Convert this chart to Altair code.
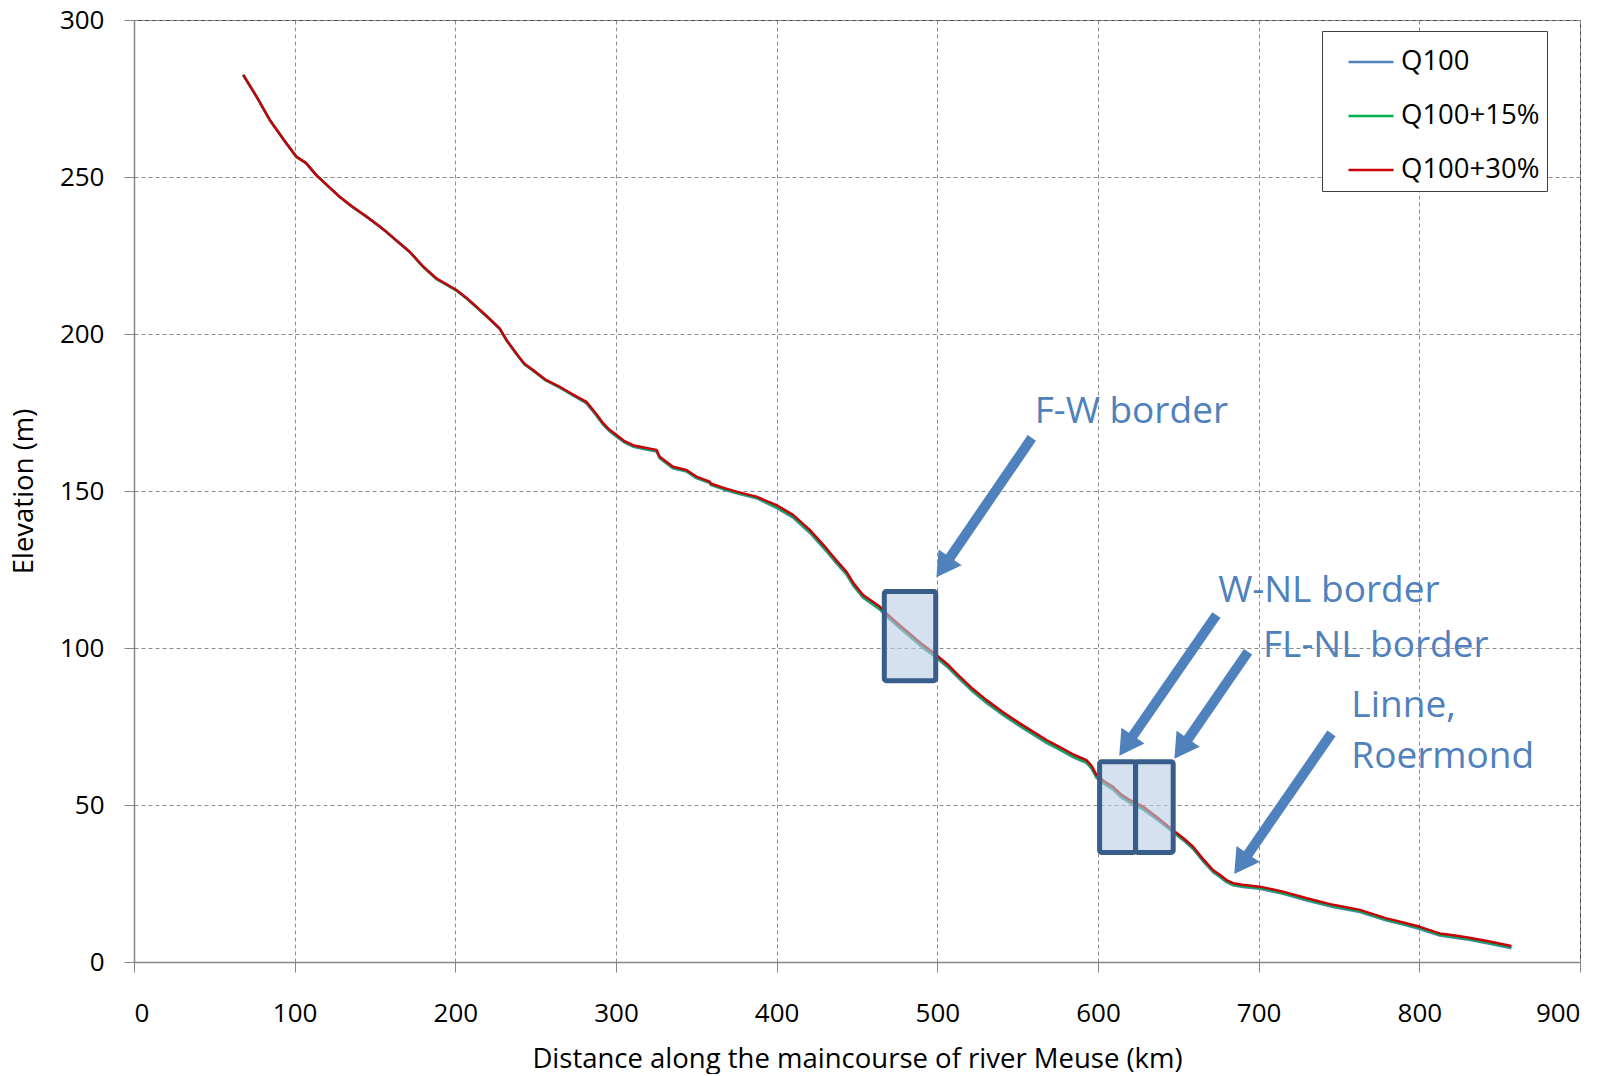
import altair as alt
import pandas as pd

# ---------------- data ----------------
distance_km = [68, 77, 84.5, 93, 101, 107, 113.5, 120, 128, 136, 144.7, 151, 157, 164, 171.6, 180,
               188.2, 194, 200.7, 207, 213.1, 220, 227.6, 232, 238, 243, 248.4, 256, 265, 273,
               281.6, 287, 292, 296, 300.3, 305, 310.6, 318, 325.2, 327.2, 335.5, 343.8, 350, 358.3,
               359, 367, 375, 387.4, 399.9, 410.2, 420.6, 431, 437, 443.4, 448, 453.8, 464.1, 468.3,
               476, 483, 491, 499.4, 507, 514, 522, 530.6, 541, 551.3, 560, 567.9, 576, 585, 592.8,
               596, 599, 604, 609.4, 614, 619.7, 624, 628, 637, 646.7, 653, 659.2, 665, 671.6, 676,
               680, 684.1, 690, 700.7, 715.2, 730, 746.3, 763, 779.6, 790, 800.3, 812.7, 820, 829.3,
               843, 857.3]

elev_q100_30 = [282.5, 275, 268.2, 262, 256.5, 254.5, 250.6, 247.5, 243.7, 240.5, 237.4, 235, 232.6,
                229.5, 226.2, 221.5, 217.7, 216, 214, 211.5, 208.7, 205.5, 201.8, 198, 193.8, 190.5,
                188.5, 185.5, 183.2, 180.8, 178.4, 175, 171.6, 169.5, 167.8, 166, 164.6, 163.8, 163.1,
                160.9, 157.7, 156.7, 154.6, 153, 152.4, 151, 149.8, 148.2, 145.5, 142.4, 137.6, 131.7,
                128, 124.3, 120.5, 116.9, 113.2, 111, 107.5, 104.5, 101, 97.8, 94.5, 90.9, 87, 83.4,
                79.5, 76, 73.2, 70.7, 68.5, 66, 64.3, 62.5, 59.6, 57.5, 55.8, 53.5, 51.6, 50.5, 49.5,
                46, 42, 39.5, 36.7, 33, 29.3, 27.7, 26.1, 25.1, 24.6, 24, 22.4, 20.3, 18.2, 16.6, 13.9,
                12.6, 11.2, 9.1, 8.6, 7.9, 6.6, 5.1]

elev_q100_15 = [282.5, 275, 268.2, 262, 256.5, 254.5, 250.6, 247.5, 243.7, 240.5, 237.4, 235, 232.6,
                229.5, 226.2, 221.4, 217.6, 215.9, 213.9, 211.4, 208.6, 205.4, 201.7, 197.9, 193.7,
                190.4, 188.4, 185.4, 183.0, 180.6, 178.1, 174.7, 171.3, 169.2, 167.5, 165.7, 164.3,
                163.5, 162.8, 160.6, 157.4, 156.4, 154.3, 152.7, 152.1, 150.7, 149.5, 147.9, 144.9,
                141.8, 137.0, 131.1, 127.4, 123.7, 119.9, 116.3, 112.6, 110.4, 106.9, 103.9, 100.4,
                97.2, 93.9, 90.3, 86.4, 82.8, 78.9, 75.4, 72.6, 70.1, 67.9, 65.4, 63.7, 61.9, 59.0,
                56.9, 55.2, 52.9, 51.0, 49.9, 48.9, 45.6, 41.6, 39.1, 36.3, 32.6, 28.9, 27.3, 25.7,
                24.7, 24.2, 23.6, 22.0, 19.9, 17.8, 16.2, 13.5, 12.2, 10.8, 8.7, 8.2, 7.5, 6.2, 4.7]

elev_q100 = [282.4, 274.9, 268.1, 261.9, 256.4, 254.4, 250.5, 247.4, 243.6, 240.4, 237.3, 234.9, 232.5,
             229.4, 226.1, 221.3, 217.5, 215.8, 213.8, 211.3, 208.5, 205.3, 201.6, 197.8, 193.6, 190.3,
             188.3, 185.3, 182.9, 180.5, 177.9, 174.5, 171.1, 169.0, 167.3, 165.5, 164.1, 163.3, 162.6,
             160.4, 157.2, 156.2, 154.1, 152.5, 151.9, 150.5, 149.3, 147.7, 144.6, 141.5, 136.7, 130.8,
             127.1, 123.4, 119.6, 116.0, 112.3, 110.1, 106.6, 103.6, 100.1, 96.9, 93.6, 90.0, 86.1,
             82.5, 78.6, 75.1, 72.3, 69.8, 67.6, 65.1, 63.4, 61.6, 58.7, 56.6, 54.9, 52.6, 50.7, 49.6,
             48.6, 45.3, 41.3, 38.8, 36.0, 32.3, 28.6, 27.0, 25.4, 24.4, 23.9, 23.3, 21.7, 19.6, 17.5,
             15.9, 13.2, 11.9, 10.5, 8.4, 7.9, 7.2, 5.9, 4.4]

series_names = ["Q100", "Q100+15%", "Q100+30%"]
series_colors = ["#4F81BD", "#00B050", "#C8000A"]

# highlighted border sections (km, m)
box_x1 = [467, 601, 623.4]
box_x2 = [499, 623.4, 646.8]
box_y1 = [89.6, 34.9, 34.9]
box_y2 = [118, 63.8, 63.8]

# annotation arrows: tail and head (km, m)
arrow_tail_x = [558.8, 673.7, 693.4, 745.3]
arrow_tail_y = [166.9, 110.5, 98.8, 72.8]
arrow_head_x = [503.7, 617.5, 651.8, 689.1]
arrow_head_y = [125.7, 68.9, 67.9, 31.2]

# annotation labels
label_text = ["F-W border", "W-NL border", "FL-NL border", "Linne,", "Roermond"]
label_x = [560.6, 674.8, 702.7, 757.7, 757.7]
label_y = [171.7, 114.7, 97.2, 78.1, 61.7]

x_ticks = [0, 100, 200, 300, 400, 500, 600, 700, 800, 900]
y_ticks = [0, 50, 100, 150, 200, 250, 300]

x_title = "Distance along the maincourse of river Meuse (km)"
y_title = "Elevation (m)"

# ---------------- build tables ----------------
rows = []
for name, vals in zip(series_names, [elev_q100, elev_q100_15, elev_q100_30]):
    for d, v in zip(distance_km, vals):
        rows.append({"dist": d, "elev": v, "series": name})
df = pd.DataFrame(rows)

box_df = pd.DataFrame({"x1": box_x1, "x2": box_x2, "y1": box_y1, "y2": box_y2})
arrow_df = pd.DataFrame({"tx": arrow_tail_x, "ty": arrow_tail_y, "hx": arrow_head_x, "hy": arrow_head_y})
label_df = pd.DataFrame({"lx": label_x, "ly": label_y, "txt": label_text})

FONT = "Open Sans"
xscale = alt.Scale(domain=[0, 900], nice=False, zero=False)
yscale = alt.Scale(domain=[0, 300], nice=False, zero=False)

lines = alt.Chart(df).mark_line(strokeWidth=2.5, strokeJoin="round").encode(
    x=alt.X("dist:Q", scale=xscale, title=x_title,
            axis=alt.Axis(values=x_ticks, labelPadding=28, titlePadding=19)),
    y=alt.Y("elev:Q", scale=yscale, title=y_title,
            axis=alt.Axis(values=y_ticks, labelPadding=20, titlePadding=21)),
    color=alt.Color("series:N",
                    scale=alt.Scale(domain=series_names, range=series_colors),
                    legend=alt.Legend(title=None, orient="none", legendX=1188, legendY=11,
                                      symbolType="stroke", symbolSize=2025, symbolStrokeWidth=2.5,
                                      symbolOffset=18, labelOffset=6, rowPadding=16, padding=7,
                                      labelFont=FONT, labelFontSize=27.5, labelColor="#000000",
                                      strokeColor="#404040", fillColor="#FFFFFF")),
)

boxes = alt.Chart(box_df).mark_rect(fill="#B9CDE5", fillOpacity=0.6, stroke="#385D8A",
                                    strokeWidth=5, cornerRadius=2).encode(
    x=alt.X("x1:Q", scale=xscale), x2="x2:Q",
    y=alt.Y("y1:Q", scale=yscale), y2="y2:Q",
)

shafts = alt.Chart(arrow_df).mark_rule(color="#4F81BD", strokeWidth=10).encode(
    x=alt.X("tx:Q", scale=xscale), y=alt.Y("ty:Q", scale=yscale), x2="hx:Q", y2="hy:Q",
)

heads = alt.Chart(arrow_df).mark_point(shape="triangle-up", filled=True, size=784, angle=214.5,
                                       color="#4F81BD", opacity=1).encode(
    x=alt.X("hx:Q", scale=xscale), y=alt.Y("hy:Q", scale=yscale),
)

labels = alt.Chart(label_df).mark_text(align="left", baseline="alphabetic", font=FONT,
                                       fontSize=37, color="#4F81BD").encode(
    x=alt.X("lx:Q", scale=xscale), y=alt.Y("ly:Q", scale=yscale), text="txt:N",
)

chart = alt.layer(lines, boxes, shafts, heads, labels).properties(
    width=1446, height=942,
    padding={"left": 126, "top": 12, "right": 30, "bottom": 112},
    autosize=alt.AutoSizeParams(type="none"),
    background="#FFFFFF",
).configure_view(
    stroke="#404040", strokeWidth=1,
).configure_axis(
    labelFont=FONT, labelFontSize=26, labelColor="#000000",
    titleFont=FONT, titleFontSize=27.5, titleFontWeight="normal", titleColor="#000000",
    grid=True, gridColor="#8C8C8C", gridDash=[4, 3], gridWidth=1,
    domainColor="#868686", domainWidth=1.5, tickColor="#868686", tickSize=10, tickWidth=1,
)

chart.save("out.html", embed_options={"renderer": "svg", "actions": False})
